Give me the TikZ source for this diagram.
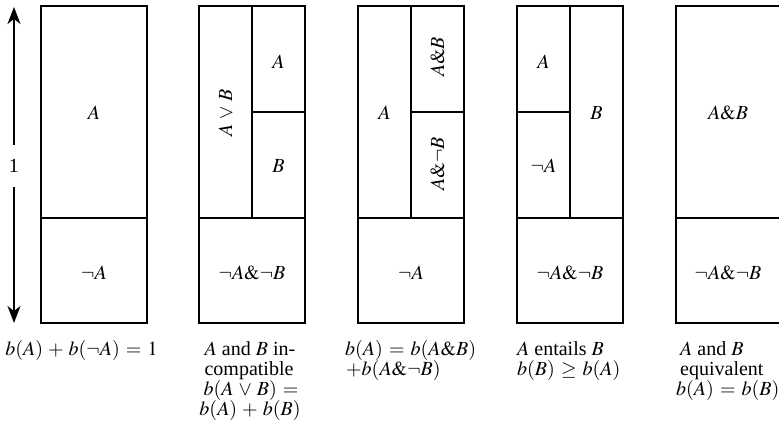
\documentclass[tikz,border=0pt]{standalone}
\usepackage{mathptmx}
\usepackage{fontspec}
\setmainfont{Liberation Serif}
\usetikzlibrary{arrows.meta}
\medmuskip=4.5mu plus 2mu minus 2mu
\thickmuskip=5.5mu plus 3mu
\begin{document}
\begin{tikzpicture}[x=1pt,y=-1pt,
  boxline/.style={line width=1.2pt},
  lbl/.style={inner sep=0pt,font=\fontsize{20}{20}\selectfont},
  captc/.style={inner sep=0pt,anchor=base,font=\fontsize{20}{20}\selectfont},
  captl/.style={inner sep=0pt,anchor=base west,font=\fontsize{20}{20}\selectfont}]
\useasboundingbox (0,0) rectangle (779,441);
\clip (0,0) rectangle (779,441);
% arrow
\coordinate (atop) at (14,7);
\coordinate (abot) at (14,323);
\node[lbl] (one) at (14,166) {1};
\draw[line width=1.6pt,-{Stealth[length=17pt,width=13pt,inset=5pt]}] (one.north) ++(0,-14) -- (atop);
\draw[line width=1.6pt,-{Stealth[length=17pt,width=13pt,inset=5pt]}] (one.south) ++(0,14) -- (abot);
% box 1
\draw[boxline] (41,6) rectangle (147,323);
\draw[boxline] (41,218) -- (147,218);
\node[lbl] (b1a) at (94,113) {$A$};
\node[lbl] (b1na) at (94,273) {$\neg A$};
\node[captc] (c1) at (81.5,355) {$b(A)+b(\neg A)=1$};
% box 2
\draw[boxline] (199,6) rectangle (305,323);
\draw[boxline] (199,218) -- (305,218);
\draw[boxline] (252,6) -- (252,218);
\draw[boxline] (252,112) -- (305,112);
\node[lbl,rotate=90] (b2avb) at (225.5,113) {$A\vee B$};
\node[lbl] (b2a) at (278.5,62) {$A$};
\node[lbl] (b2b) at (278.5,166) {$B$};
\node[lbl] (b2nn) at (252,273) {$\neg A\&\neg B$};
\node[captc] (c2a) at (250,355) {$A$ and $B$ in-};
\node[captc] (c2b) at (249,375) {compatible};
\node[captc] (c2c) at (251,395) {$b(A\vee B)=$};
\node[captc] (c2d) at (250,415) {$b(A)+b(B)$};
% box 3
\draw[boxline] (358,6) rectangle (464,323);
\draw[boxline] (358,218) -- (464,218);
\draw[boxline] (411,6) -- (411,218);
\draw[boxline] (411,112) -- (464,112);
\node[lbl] (b3a) at (384.5,113) {$A$};
\node[lbl,rotate=90] (b3ab) at (437.5,57) {$A\&B$};
\node[lbl,rotate=90] (b3anb) at (437.5,164) {$A\&\neg B$};
\node[lbl] (b3na) at (411,273) {$\neg A$};
\node[captl] (c3a) at (345,355) {$b(A)=b(A\&B)$};
\node[captl] (c3b) at (346,375) {$+b(A\&\neg B)$};
% box 4
\draw[boxline] (517,6) rectangle (623,323);
\draw[boxline] (517,218) -- (623,218);
\draw[boxline] (570,6) -- (570,218);
\draw[boxline] (517,112) -- (570,112);
\node[lbl] (b4a) at (543.5,62) {$A$};
\node[lbl] (b4na) at (543.5,166) {$\neg A$};
\node[lbl] (b4b) at (596.5,113) {$B$};
\node[lbl] (b4nn) at (570,273) {$\neg A\&\neg B$};
\node[captl] (c4a) at (517,355) {$A$ entails $B$};
\node[captl] (c4b) at (517,375) {$b(B)\geq b(A)$};
% box 5
\draw[boxline] (676,6) rectangle (782,323);
\draw[boxline] (676,218) -- (782,218);
\node[lbl] (b5ab) at (728,113) {$A\&B$};
\node[lbl] (b5nn) at (728,273) {$\neg A\&\neg B$};
\node[captl] (c5a) at (680,355) {$A$ and $B$};
\node[captl] (c5b) at (680,375) {equivalent};
\node[captl] (c5c) at (676,395) {$b(A)=b(B)$};
\end{tikzpicture}
\end{document}
